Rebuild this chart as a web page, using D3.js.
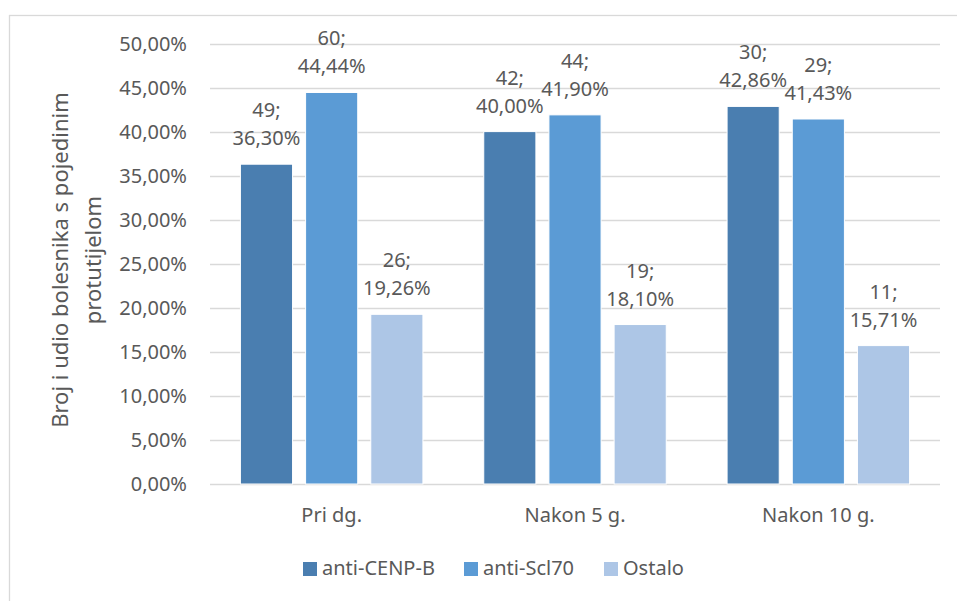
<!DOCTYPE html>
<html>
<head>
<meta charset="utf-8">
<script src="https://cdn.jsdelivr.net/npm/d3@7"></script>
<style>
  body { margin: 0; background: #fff; }
  text { font-family: "Noto Sans", "Liberation Sans", sans-serif; fill: #595959; }
</style>
</head>
<body>
<script>
var categories = ['Pri dg.', 'Nakon 5 g.', 'Nakon 10 g.'];
var series = ['anti-CENP-B', 'anti-Scl70', 'Ostalo'];
var cenpBCount = [49, 42, 30];
var cenpBPct = [36.30, 40.00, 42.86];
var scl70Count = [60, 44, 29];
var scl70Pct = [44.44, 41.90, 41.43];
var ostaloCount = [26, 19, 11];
var ostaloPct = [19.26, 18.10, 15.71];
var yTicks = [0, 5, 10, 15, 20, 25, 30, 35, 40, 45, 50];

var colors = ['#4a7eb0', '#5b9bd5', '#adc6e6'];
var counts = [cenpBCount, scl70Count, ostaloCount];
var pcts = [cenpBPct, scl70Pct, ostaloPct];

var width = 957;
var height = 601;

var svg = d3.select('body').append('svg')
  .attr('width', width)
  .attr('height', height);

// chart border
svg.append('rect')
  .attr('x', 9.5).attr('y', 15.5)
  .attr('width', 960).attr('height', 620)
  .attr('fill', 'none')
  .attr('stroke', '#d9d9d9')
  .attr('stroke-width', 1.3);

var x = d3.scaleBand().domain(categories).range([210, 940]);
var bw = x.bandwidth();
var x1 = d3.scaleBand().domain(series).range([bw * 0.125, bw * 0.875]).paddingInner(0.2);
var y = d3.scaleLinear().domain([0, 50]).range([484, 43.5]);

var fmt = d3.formatLocale({ decimal: ',', thousands: '.', grouping: [3], currency: ['', ''] });
var pctFmt = function(v) { return fmt.format('.2f')(v) + '%'; };

// gridlines
svg.append('g').selectAll('line').data(yTicks).enter().append('line')
  .attr('x1', 210).attr('x2', 940)
  .attr('y1', function(d) { return Math.round(y(d)) + 0.5; })
  .attr('y2', function(d) { return Math.round(y(d)) + 0.5; })
  .attr('stroke', '#d9d9d9')
  .attr('stroke-width', 1.5);

// y tick labels
svg.append('g').selectAll('text').data(yTicks).enter().append('text')
  .attr('x', 187)
  .attr('y', function(d) { return y(d) + 7; })
  .attr('text-anchor', 'end')
  .style('font-size', '20px')
  .text(pctFmt);

// bars
var rows = [];
categories.forEach(function(c, i) {
  series.forEach(function(s, j) {
    rows.push({ cat: c, ser: s, j: j, count: counts[j][i], pct: pcts[j][i] });
  });
});

var bars = svg.append('g').selectAll('rect').data(rows).enter().append('rect')
  .attr('x', function(d) { return x(d.cat) + x1(d.ser); })
  .attr('y', function(d) { return y(d.pct); })
  .attr('width', x1.bandwidth())
  .attr('height', function(d) { return y(0) - y(d.pct); })
  .attr('fill', function(d) { return colors[d.j]; })
  .attr('stroke', '#fff')
  .attr('stroke-width', 1);

// data labels
var labels = svg.append('g').selectAll('text').data(rows).enter().append('text')
  .attr('text-anchor', 'middle')
  .style('font-size', '20px');
labels.append('tspan')
  .attr('x', function(d) { return x(d.cat) + x1(d.ser) + x1.bandwidth() / 2; })
  .attr('y', function(d) { return y(d.pct) - 47; })
  .text(function(d) { return d.count + ';'; });
labels.append('tspan')
  .attr('x', function(d) { return x(d.cat) + x1(d.ser) + x1.bandwidth() / 2; })
  .attr('y', function(d) { return y(d.pct) - 19; })
  .text(function(d) { return pctFmt(d.pct); });

// x labels
svg.append('g').selectAll('text').data(categories).enter().append('text')
  .attr('x', function(d) { return x(d) + bw / 2; })
  .attr('y', 522)
  .attr('text-anchor', 'middle')
  .style('font-size', '20px')
  .text(function(d) { return d; });

// y axis title
var title = svg.append('text')
  .attr('transform', 'translate(60,260) rotate(-90)')
  .attr('text-anchor', 'middle')
  .style('font-size', '22px');
title.append('tspan').attr('x', 0).attr('y', 8).text('Broj i udio bolesnika s pojedinim');
title.append('tspan').attr('x', 0).attr('y', 41).text('protutijelom');

// legend
var legendX = [303, 464, 604];
var legend = svg.append('g').selectAll('g').data(series).enter().append('g')
  .attr('transform', function(d, i) { return 'translate(' + legendX[i] + ',562)'; });
legend.append('rect')
  .attr('width', 14).attr('height', 14)
  .attr('fill', function(d, i) { return colors[i]; });
legend.append('text')
  .attr('x', 19).attr('y', 13)
  .style('font-size', '20px')
  .text(function(d) { return d; });
</script>
</body>
</html>
